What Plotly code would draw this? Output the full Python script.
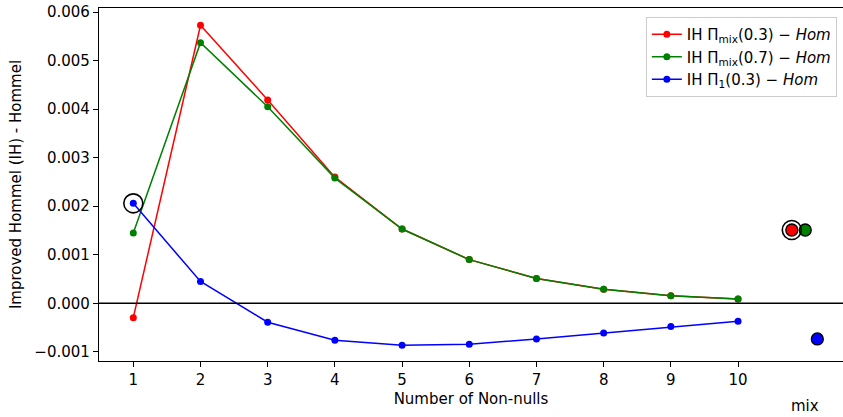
import plotly.graph_objects as go

n_nonnulls = [1, 2, 3, 4, 5, 6, 7, 8, 9, 10]
red_mix03 = [-0.000296, 0.00573, 0.00419, 0.00260, 0.00153, 0.00090, 0.00051, 0.00029, 0.000156, 0.00009]
green_mix07 = [0.00145, 0.00537, 0.00405, 0.00258, 0.00153, 0.00090, 0.00051, 0.00029, 0.000156, 0.00009]
blue_p1_03 = [0.00206, 0.00045, -0.00039, -0.00076, -0.000865, -0.000845, -0.000735, -0.00061, -0.00048, -0.00037]

mix_x = [10.8, 11.0, 11.18]
mix_y = [0.00151, 0.00151, -0.000735]
mix_colors = ["#ff0000", "#008000", "#0000ff"]

highlight_x = [1, 10.8]
highlight_y = [0.00206, 0.00151]

names = ["IH Π<sub>mix</sub>(0.3) − <i>Hom</i>",
         "IH Π<sub>mix</sub>(0.7) − <i>Hom</i>",
         "IH Π<sub>1</sub>(0.3) − <i>Hom</i>"]
series = [red_mix03, green_mix07, blue_p1_03]

xticks = [1, 2, 3, 4, 5, 6, 7, 8, 9, 10]
yticks = [-0.001, 0.0, 0.001, 0.002, 0.003, 0.004, 0.005, 0.006]

FONT = "DejaVu Sans"
FS = 15

fig = go.Figure()
for nm, ys, c in zip(names, series, mix_colors):
    fig.add_trace(go.Scatter(x=n_nonnulls, y=ys, mode="lines+markers", name=nm,
                             line=dict(color=c, width=1.5),
                             marker=dict(color=c, size=7)))

fig.add_trace(go.Scatter(x=mix_x, y=mix_y, mode="markers", showlegend=False,
                         marker=dict(color=mix_colors, size=12,
                                     line=dict(color="black", width=1.3))))
fig.add_trace(go.Scatter(x=highlight_x, y=highlight_y, mode="markers", showlegend=False,
                         marker=dict(symbol="circle-open", color="black", size=19,
                                     line=dict(color="black", width=1.6))))

fig.add_shape(type="line", xref="paper", x0=0, x1=1, yref="y", y0=0, y1=0,
              line=dict(color="black", width=1.6), layer="above")

fig.add_annotation(x=11.0, xref="x", y=-0.127, yref="paper", text="mix",
                   showarrow=False, font=dict(family=FONT, size=FS, color="black"),
                   yanchor="middle")

fig.update_layout(
    width=843, height=417,
    margin=dict(l=99, r=0, t=8, b=56),
    plot_bgcolor="white", paper_bgcolor="white",
    font=dict(family=FONT, size=FS, color="black"),
    xaxis=dict(range=[0.4895, 11.562], tickvals=xticks, ticktext=[str(v) for v in xticks],
               showgrid=False, zeroline=False, showline=True, linecolor="black", linewidth=1.3,
               mirror=True, ticks="outside", ticklen=5, tickwidth=1.2, tickcolor="black",
               title=dict(text="Number of Non-nulls", standoff=5, font=dict(size=FS))),
    yaxis=dict(range=[-0.001189, 0.006085], tickvals=yticks, tickformat=".3f",
               showgrid=False, zeroline=False, showline=True, linecolor="black", linewidth=1.3,
               mirror=False, ticks="outside", ticklen=5, tickwidth=1.2, tickcolor="black",
               title=dict(text="Improved Hommel (IH) - Hommel", standoff=9, font=dict(size=FS))),
    legend=dict(x=0.735, y=0.9745, xanchor="left", yanchor="top",
                bgcolor="rgba(255,255,255,0.8)", bordercolor="#cccccc", borderwidth=1,
                font=dict(family=FONT, size=FS), tracegroupgap=0),
    showlegend=True,
)

fig.write_html("out.html")
